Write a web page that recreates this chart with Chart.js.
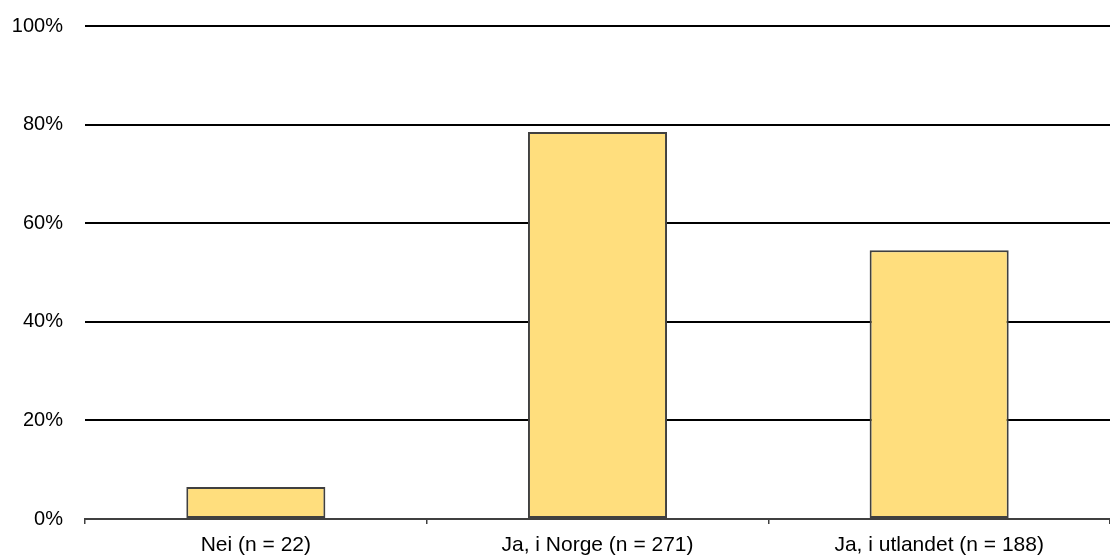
<!DOCTYPE html>
<html>
<head>
<meta charset="utf-8">
<script src="https://cdn.jsdelivr.net/npm/chart.js@4/dist/chart.umd.min.js"></script>
<style>
  html, body { margin: 0; padding: 0; background: #fff; }
  #wrap { width: 1110px; height: 555px; position: relative; }
</style>
</head>
<body>
<div id="wrap"><canvas id="c"></canvas></div>
<script>
// Answer categories and share of respondents (%)
const categories = ['Nei (n = 22)', 'Ja, i Norge (n = 271)', 'Ja, i utlandet (n = 188)'];
const shares = [6.5, 78.5, 54.5];
const yTicks = [0, 20, 40, 60, 80, 100];

const FAMILY = "'Liberation Sans', Arial, sans-serif";

new Chart(document.getElementById('c'), {
  type: 'bar',
  data: {
    labels: categories,
    datasets: [{
      data: shares,
      backgroundColor: '#FFDE7D',
      borderColor: '#404040',
      borderWidth: 2,
      borderSkipped: false,
      categoryPercentage: 1,
      barPercentage: 0.407
    }]
  },
  options: {
    responsive: true,
    maintainAspectRatio: false,
    animation: false,
    layout: { padding: { top: 26, right: 0, bottom: 0, left: 0 } },
    plugins: { legend: { display: false }, tooltip: { enabled: false } },
    scales: {
      x: {
        offset: true,
        grid: {
          offset: true,
          drawOnChartArea: false,
          drawTicks: true,
          tickLength: 5,
          color: '#404040',
          lineWidth: 1.5
        },
        border: { display: true, color: '#404040', width: 2 },
        ticks: { color: '#000', font: { family: FAMILY, size: 21 }, padding: 9, maxRotation: 0 },
        afterFit(scale) { scale.height = 36; }
      },
      y: {
        min: 0,
        max: 100,
        afterBuildTicks(scale) { scale.ticks = yTicks.map(v => ({ value: v })); },
        grid: {
          drawTicks: false,
          color: ctx => (ctx.tick && ctx.tick.value === 0) ? 'rgba(0,0,0,0)' : '#000',
          lineWidth: 2
        },
        border: { display: false },
        ticks: {
          color: '#000',
          font: { family: FAMILY, size: 20 },
          padding: 22,
          callback: v => v + '%'
        },
        afterFit(scale) {
          scale.width = 85;
          scale.paddingTop = 0;
          scale.paddingBottom = 0;
        }
      }
    }
  }
});
</script>
</body>
</html>
